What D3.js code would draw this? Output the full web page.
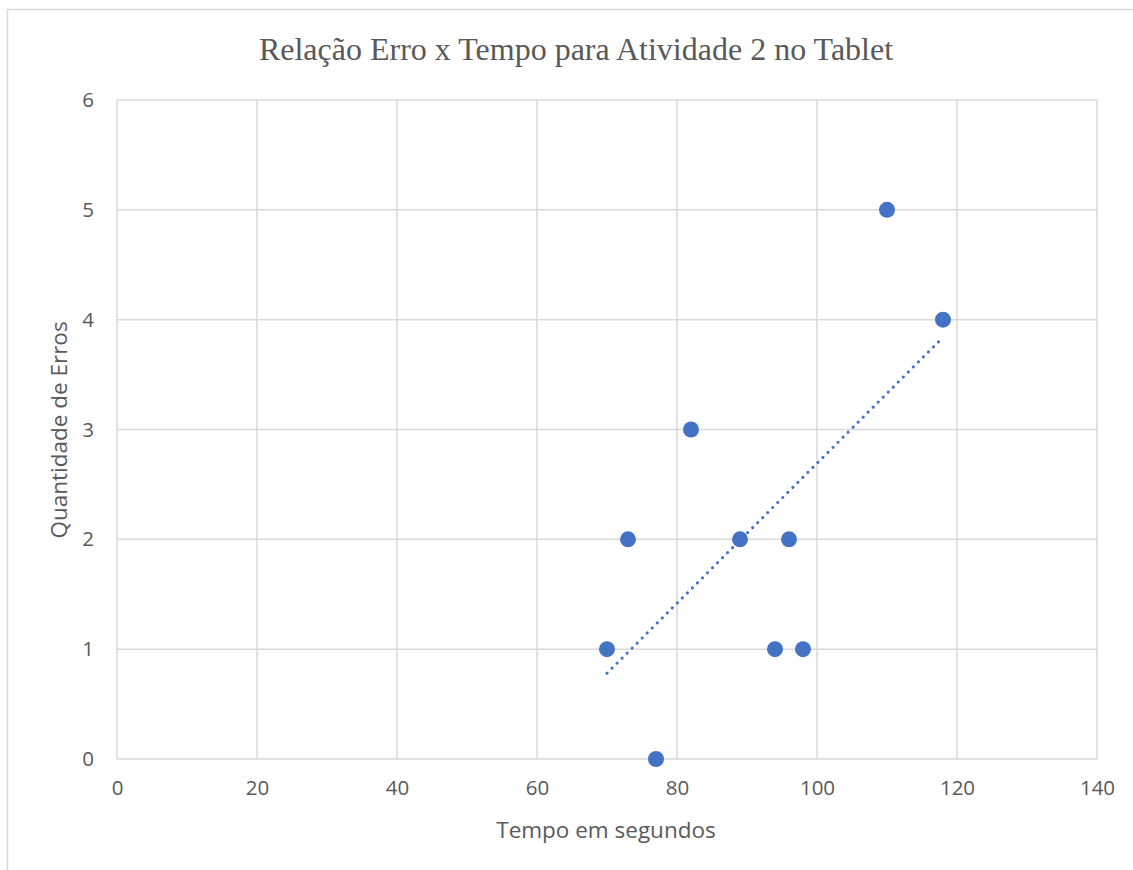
<!DOCTYPE html>
<html>
<head>
<meta charset="utf-8">
<script src="https://cdn.jsdelivr.net/npm/d3@7"></script>
<style>
  body { margin: 0; background: #fff; }
  text { fill: #595959; }
</style>
</head>
<body>
<script>
// data
var tempo = [70, 73, 77, 82, 89, 94, 96, 98, 110, 118];
var erros = [1, 2, 0, 3, 2, 1, 2, 1, 5, 4];
var xTicks = [0, 20, 40, 60, 80, 100, 120, 140];
var yTicks = [0, 1, 2, 3, 4, 5, 6];

var width = 1133, height = 870;
var margin = { top: 100, right: 36, bottom: 111, left: 117 };

var svg = d3.select("body")
  .append("svg")
  .attr("width", width)
  .attr("height", height);

// chart border
svg.append("rect")
  .attr("x", 7.5).attr("y", 9.5)
  .attr("width", width + 10).attr("height", height + 10)
  .attr("fill", "none")
  .attr("stroke", "#d9d9d9")
  .attr("stroke-width", 1.5);

var x = d3.scaleLinear().domain([0, 140]).range([margin.left, width - margin.right]);
var y = d3.scaleLinear().domain([0, 6]).range([height - margin.bottom, margin.top]);

var g = svg.append("g");

// gridlines
g.selectAll(".vgrid")
  .data(xTicks)
  .enter().append("line")
  .attr("x1", d => x(d)).attr("x2", d => x(d))
  .attr("y1", y(0)).attr("y2", y(6))
  .attr("stroke", "#d9d9d9")
  .attr("stroke-width", 1.5);

g.selectAll(".hgrid")
  .data(yTicks)
  .enter().append("line")
  .attr("x1", x(0)).attr("x2", x(140))
  .attr("y1", d => y(d)).attr("y2", d => y(d))
  .attr("stroke", "#d9d9d9")
  .attr("stroke-width", 1.5);

// tick labels
var xAxis = d3.axisBottom(x).tickValues(xTicks).tickFormat(d3.format("d")).tickSize(0).tickPadding(21);
svg.append("g")
  .attr("transform", "translate(0," + y(0) + ")")
  .call(xAxis)
  .call(a => a.select(".domain").remove())
  .selectAll("text")
  .attr("font-family", "'Open Sans', sans-serif")
  .attr("font-size", 20.5)
  .attr("fill", "#595959");

var yAxis = d3.axisLeft(y).tickValues(yTicks).tickFormat(d3.format("d")).tickSize(0).tickPadding(23);
svg.append("g")
  .attr("transform", "translate(" + x(0) + ",0)")
  .call(yAxis)
  .call(a => a.select(".domain").remove())
  .selectAll("text")
  .attr("font-family", "'Open Sans', sans-serif")
  .attr("font-size", 20.5)
  .attr("fill", "#595959");

// linear trendline (least squares)
var mx = d3.mean(tempo), my = d3.mean(erros);
var sxy = d3.sum(tempo, (t, i) => (t - mx) * (erros[i] - my));
var sxx = d3.sum(tempo, t => (t - mx) * (t - mx));
var slope = sxy / sxx, icpt = my - slope * mx;
var xs = d3.extent(tempo);

svg.append("line")
  .attr("x1", x(xs[0])).attr("y1", y(icpt + slope * xs[0]))
  .attr("x2", x(xs[1])).attr("y2", y(icpt + slope * xs[1]))
  .attr("stroke", "#4472c4")
  .attr("stroke-width", 3)
  .attr("stroke-linecap", "round")
  .attr("stroke-dasharray", "0.1 7");

// points
svg.selectAll(".pt")
  .data(tempo)
  .enter().append("circle")
  .attr("cx", d => x(d))
  .attr("cy", (d, i) => y(erros[i]))
  .attr("r", 8)
  .attr("fill", "#4472c4");

// title
svg.append("text")
  .attr("x", 576).attr("y", 60)
  .attr("text-anchor", "middle")
  .attr("font-family", "'Liberation Serif', 'Times New Roman', serif")
  .attr("font-size", 32)
  .text("Relação Erro x Tempo para Atividade 2 no Tablet");

// axis titles
svg.append("text")
  .attr("x", 606).attr("y", 838)
  .attr("text-anchor", "middle")
  .attr("font-family", "'Open Sans', sans-serif")
  .attr("font-size", 22.5)
  .text("Tempo em segundos");

svg.append("text")
  .attr("transform", "translate(67,430) rotate(-90)")
  .attr("text-anchor", "middle")
  .attr("font-family", "'Open Sans', sans-serif")
  .attr("font-size", 22.5)
  .text("Quantidade de Erros");
</script>
</body>
</html>
